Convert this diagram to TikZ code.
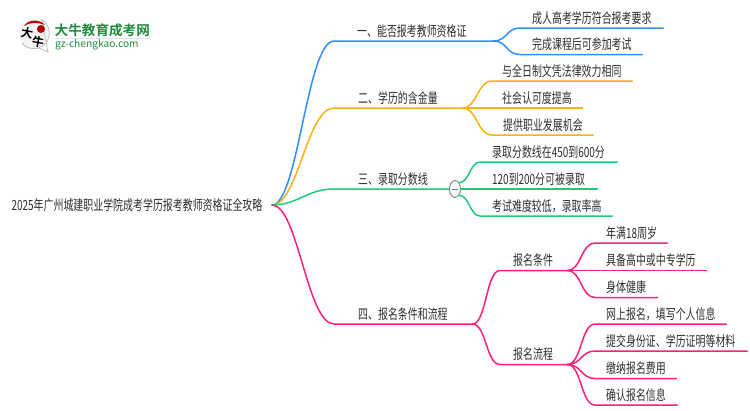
\documentclass[tikz,border=0pt]{standalone}
\usepackage{fontspec}
\usetikzlibrary{shapes.geometric}
\setmainfont[FakeStretch=0.71]{Noto Sans CJK SC}
\newfontfamily\logofont[BoldFont=* Bold]{Noto Sans CJK SC}
\definecolor{cblue}{HTML}{2F8FFF}
\definecolor{cyellow}{HTML}{FFB012}
\definecolor{cgreen}{HTML}{1ECB7A}
\definecolor{cpink}{HTML}{FF1F7A}
\definecolor{ctext}{HTML}{2E2E2E}
\definecolor{clogo}{HTML}{1E8A3C}
\newcommand{\mind}[6]{% name, x0, x1, yline, textx, text
  \pgfmathsetlengthmacro{\mindw}{#3-#2}%
  \pgfmathsetlengthmacro{\mindo}{#5-#2}%
  \node (#1) [mindtext, text width=\mindw, anchor=south west] at (#2,#4) {\hspace*{\mindo}#6};}
\newcommand{\link}[4]{% colour, from, to, bend
  \draw[conn, #1] (#2) .. controls +(#4,0) and +(-#4,0) .. (#3.south west) -- (#3.south east);}
\tikzset{
  x=1pt, y=-1pt,
  mindtext/.style={inner sep=0pt, minimum height=20pt, align=left, text=ctext,
    font=\fontsize{14}{16}\selectfont, text height=12.5pt, text depth=2pt},
  conn/.style={line width=1.5pt, line cap=round},
  collapse/.style={ellipse, draw=black!45, fill=white, line width=1pt, inner sep=0pt,
    minimum width=11pt, minimum height=17pt}
}
\begin{document}
\begin{tikzpicture}
\useasboundingbox (0,0) rectangle (750,410);
% logo
\fill[black!4] (34,34) circle (15);
\draw[black!25, line width=.8pt] (22,43) arc (140:-60:15.5 and 15.5) -- (48,52) -- (39,48) .. controls (30,50) and (25,47) .. (22,43);
\fill[red!75!black] (24,26) .. controls (28,19) and (40,19) .. (45,25) .. controls (38,22) and (30,22) .. (24,26);
\fill[red!70!black] (41,29) circle (4);
\node (logoa) [inner sep=0pt, font=\logofont\bfseries\fontsize{12}{12}\selectfont, rotate=-10] at (27,33) {大};
\node (logob) [inner sep=0pt, font=\logofont\bfseries\fontsize{12}{12}\selectfont, rotate=-10] at (38,42) {牛};
\node (logoc) [inner sep=0pt, text=clogo, font=\logofont\bfseries\fontsize{13.6}{14}\selectfont, anchor=west] at (54.5,30) {大牛教育成考网};
\fill[black!12] (55,37.5) rectangle (150,39);
\node (logod) [inner sep=0pt, text=clogo, font=\logofont\fontsize{10.2}{11}\selectfont, anchor=west] at (55,45) {gz-chengkao.com};
% root
\node (root) [mindtext, minimum width=270pt, anchor=center, align=center, text width=270pt] at (137,205) {2025年广州城建职业学院成考学历报考教师资格证全攻略};
\coordinate (r) at (272,205);
% topics
\mind{t1}{334}{493}{41}{357}{一、能否报考教师资格证}
\mind{t2}{334}{462}{108}{358}{二、学历的含金量}
\mind{t3}{334}{450}{189}{358}{三、录取分数线}
\mind{t4}{334}{472}{324}{358}{四、报名条件和流程}
% leaves
\mind{a1}{520}{663}{28}{532}{成人高考学历符合报考要求}
\mind{a2}{520}{642}{54.5}{532}{完成课程后可参加考试}
\mind{b1}{492}{632}{81}{502}{与全日制文凭法律效力相同}
\mind{b2}{492}{582}{108}{502}{社会认可度提高}
\mind{b3}{492}{593}{135}{503}{提供职业发展机会}
\mind{c1}{480}{617}{162}{492}{录取分数线在450到600分}
\mind{c2}{480}{597}{189}{492}{120到200分可被录取}
\mind{c3}{480}{612}{216}{492}{考试难度较低，录取率高}
\mind{d1}{500}{567}{270.5}{513}{报名条件}
\mind{d2}{500}{567}{364.5}{513}{报名流程}
\mind{e1}{595}{667}{243}{606}{年满18周岁}
\mind{e2}{595}{706}{270.5}{606}{具备高中或中专学历}
\mind{e3}{595}{657}{297.5}{606}{身体健康}
\mind{f1}{595}{726}{324}{606}{网上报名，填写个人信息}
\mind{f2}{595}{747}{351}{606}{提交身份证、学历证明等材料}
\mind{f3}{595}{676}{378.5}{606}{缴纳报名费用}
\mind{f4}{595}{677}{405}{606}{确认报名信息}
% main connectors
\draw[conn, cblue] (r) .. controls (298,205) and (307,41) .. (t1.south west) -- (t1.south east);
\draw[conn, cyellow] (r) .. controls (298,205) and (307,108) .. (t2.south west) -- (t2.south east);
\draw[conn, cgreen] (r) .. controls (298,205) and (307,189) .. (t3.south west) -- (t3.south east);
\draw[conn, cpink] (r) .. controls (298,205) and (307,324) .. (t4.south west) -- (t4.south east);
% forks
\link{cblue}{t1.south east}{a1}{14}
\link{cblue}{t1.south east}{a2}{14}
\link{cyellow}{t2.south east}{b1}{15}
\link{cyellow}{t2.south east}{b2}{15}
\link{cyellow}{t2.south east}{b3}{15}
\node (k) [collapse] at (455,189) {};
\link{cgreen}{k.north east}{c1}{10}
\link{cgreen}{k.east}{c2}{10}
\link{cgreen}{k.south east}{c3}{10}
\draw[black!55, line width=.8pt] (k.center) +(-3,0) -- +(3,0);
\link{cpink}{t4.south east}{d1}{14}
\link{cpink}{t4.south east}{d2}{14}
\link{cpink}{d1.south east}{e1}{14}
\link{cpink}{d1.south east}{e2}{14}
\link{cpink}{d1.south east}{e3}{14}
\link{cpink}{d2.south east}{f1}{14}
\link{cpink}{d2.south east}{f2}{14}
\link{cpink}{d2.south east}{f3}{14}
\link{cpink}{d2.south east}{f4}{14}
\end{tikzpicture}
\end{document}
